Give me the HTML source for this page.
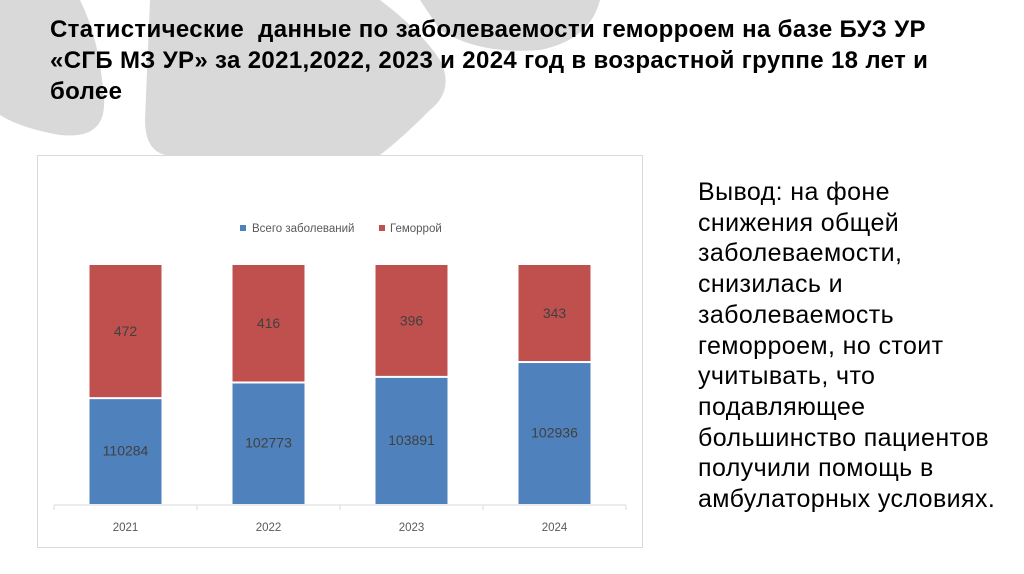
<!DOCTYPE html>
<html><head><meta charset="utf-8">
<style>
html,body{margin:0;padding:0;width:1024px;height:574px;overflow:hidden;background:#fff;font-family:"Liberation Sans",sans-serif;position:relative}
#bg{position:absolute;left:0;top:0}
h1{position:absolute;left:50px;top:14px;margin:0;font-size:24px;letter-spacing:0.35px;line-height:31px;font-weight:bold;color:#000;white-space:nowrap}
#chartbox{position:absolute;left:37px;top:155px;width:604px;height:391px;border:1px solid #d9d9d9;background:#fff}
#concl{position:absolute;left:698px;top:177px;font-size:25px;letter-spacing:0.4px;line-height:30.7px;color:#000;white-space:nowrap}
</style></head><body>
<svg id="bg" width="1024" height="574">
<path d="M0 0 L80 0 Q100 40 104 100 Q106 140 60 135 Q20 128 0 115 Z" fill="#d9d9d9"/>
<path d="M150 0 L380 0 Q420 30 440 60 Q455 90 430 110 Q400 140 380 155 L165 155 Q145 150 145 120 Z" fill="#d9d9d9"/>
<path d="M420 0 L600 0 Q590 40 540 50 Q480 55 440 30 Z" fill="#d9d9d9"/>
</svg>
<h1>Статистические&nbsp; данные по заболеваемости геморроем на базе БУЗ УР<br>«СГБ МЗ УР» за 2021,2022, 2023 и 2024 год в возрастной группе 18 лет и<br>более</h1>
<div id="chartbox"></div>
<svg id="chart" width="1024" height="574" style="position:absolute;left:0;top:0">
<g>
<rect x="240" y="225" width="6" height="6" fill="#4f81bd"/>
<text x="252" y="232" font-size="11.5" fill="#595959">Всего заболеваний</text>
<rect x="379" y="225" width="6" height="6" fill="#c0504d"/>
<text x="390" y="232" font-size="11.5" fill="#595959">Геморрой</text>
</g>
</svg>
<div id="concl">Вывод: на фоне<br>снижения общей<br>заболеваемости,<br>снизилась и<br>заболеваемость<br>геморроем, но стоит<br>учитывать, что<br>подавляющее<br>большинство пациентов<br>получили помощь в<br>амбулаторных условиях.</div>
<script>
const categories=['2021','2022','2023','2024'];
const totalValues=[110284,102773,103891,102936];
const hemValues=[472,416,396,343];
const svg=document.getElementById('chart');
const NS='http://www.w3.org/2000/svg';
const plotTop=265,plotBottom=504,plotLeft=54,plotRight=626;
const band=(plotRight-plotLeft)/categories.length;
const barW=72;
function xCenter(i){return plotLeft+band*(i+0.5);}
function hemHeight(v){return v*0.28;}
function mk(tag,attrs){const e=document.createElementNS(NS,tag);for(const k in attrs)e.setAttribute(k,attrs[k]);svg.appendChild(e);return e;}
const axis=mk('line',{x1:plotLeft,x2:plotRight,y1:plotBottom+1,y2:plotBottom+1,stroke:'#d9d9d9','stroke-width':1});


for(let i=0;i<=categories.length;i++){
  const t=mk('line',{x1:plotLeft+band*i,x2:plotLeft+band*i,y1:plotBottom+1,y2:plotBottom+6,stroke:'#d9d9d9'});
  
  
}
categories.forEach((c,i)=>{
  const cx=xCenter(i),x=cx-barW/2;
  const hh=hemHeight(hemValues[i]);
  const split=plotTop+hh;
  const r=mk('rect',{x:x,y:plotTop,width:barW,height:hh,fill:'#c0504d'});
  
  
  const b=mk('rect',{x:x,y:split+2,width:barW,height:plotBottom-split-2,fill:'#4f81bd'});
  
  
  const lt=mk('text',{x:cx,y:(plotTop+split)/2+5,'text-anchor':'middle','font-size':14,fill:'#404040'});
  lt.textContent=hemValues[i];
  
  
  const lb=mk('text',{x:cx,y:(split+plotBottom)/2+5,'text-anchor':'middle','font-size':14,fill:'#404040'});
  lb.textContent=totalValues[i];
  
  
  const ct=mk('text',{x:cx,y:531,'text-anchor':'middle','font-size':11.5,fill:'#595959'});
  ct.textContent=c;
  
  
});
</script>
</body></html>
